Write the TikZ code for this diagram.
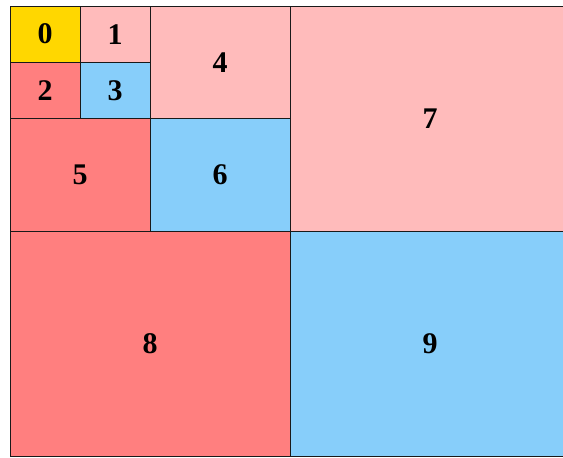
\documentclass[tikz,border=0pt]{standalone}
\usepackage{fontspec}
\setmainfont{Liberation Serif}
\usepackage{tikz}

\definecolor{cellgold}{HTML}{FFD700}
\definecolor{cellpink}{HTML}{FFBBBB}
\definecolor{cellred}{HTML}{FF7F7F}
\definecolor{cellblue}{HTML}{87CEFA}

\newcommand\celltext{\fontsize{30}{30}\selectfont\bfseries}

\tikzset{
  cell/.style={draw=black!90, line width=1pt, inner sep=0pt, outer sep=0pt,
    font=\celltext},
  onecell/.style={cell, minimum width=70pt, minimum height=56.25pt},
  twocell/.style={cell, minimum width=140pt, minimum height=112.5pt},
  fourcell/.style={cell, minimum width=280pt, minimum height=225pt}
}

\begin{document}
\begin{tikzpicture}[x=70pt, y=-56.25pt]
        \path[use as bounding box, clip] (-10pt,6pt) rectangle (553pt,-452pt);
        % smallest blocks
        \node[onecell, fill=cellgold] (b0) at (0.5,0.5) {0};
        \node[onecell, fill=cellpink] (b1) at (1.5,0.5) {1};
        \node[onecell, fill=cellred]  (b2) at (0.5,1.5) {2};
        \node[onecell, fill=cellblue] (b3) at (1.5,1.5) {3};
        % middle blocks
        \node[twocell, fill=cellpink] (b4) at (3,1) {4};
        \node[twocell, fill=cellred]  (b5) at (1,3) {5};
        \node[twocell, fill=cellblue] (b6) at (3,3) {6};
        % large blocks
        \node[fourcell, fill=cellpink] (b7) at (6,2) {7};
        \node[fourcell, fill=cellred]  (b8) at (2,6) {8};
        \node[fourcell, fill=cellblue] (b9) at (6,6) {9};
    \end{tikzpicture}
\end{document}
